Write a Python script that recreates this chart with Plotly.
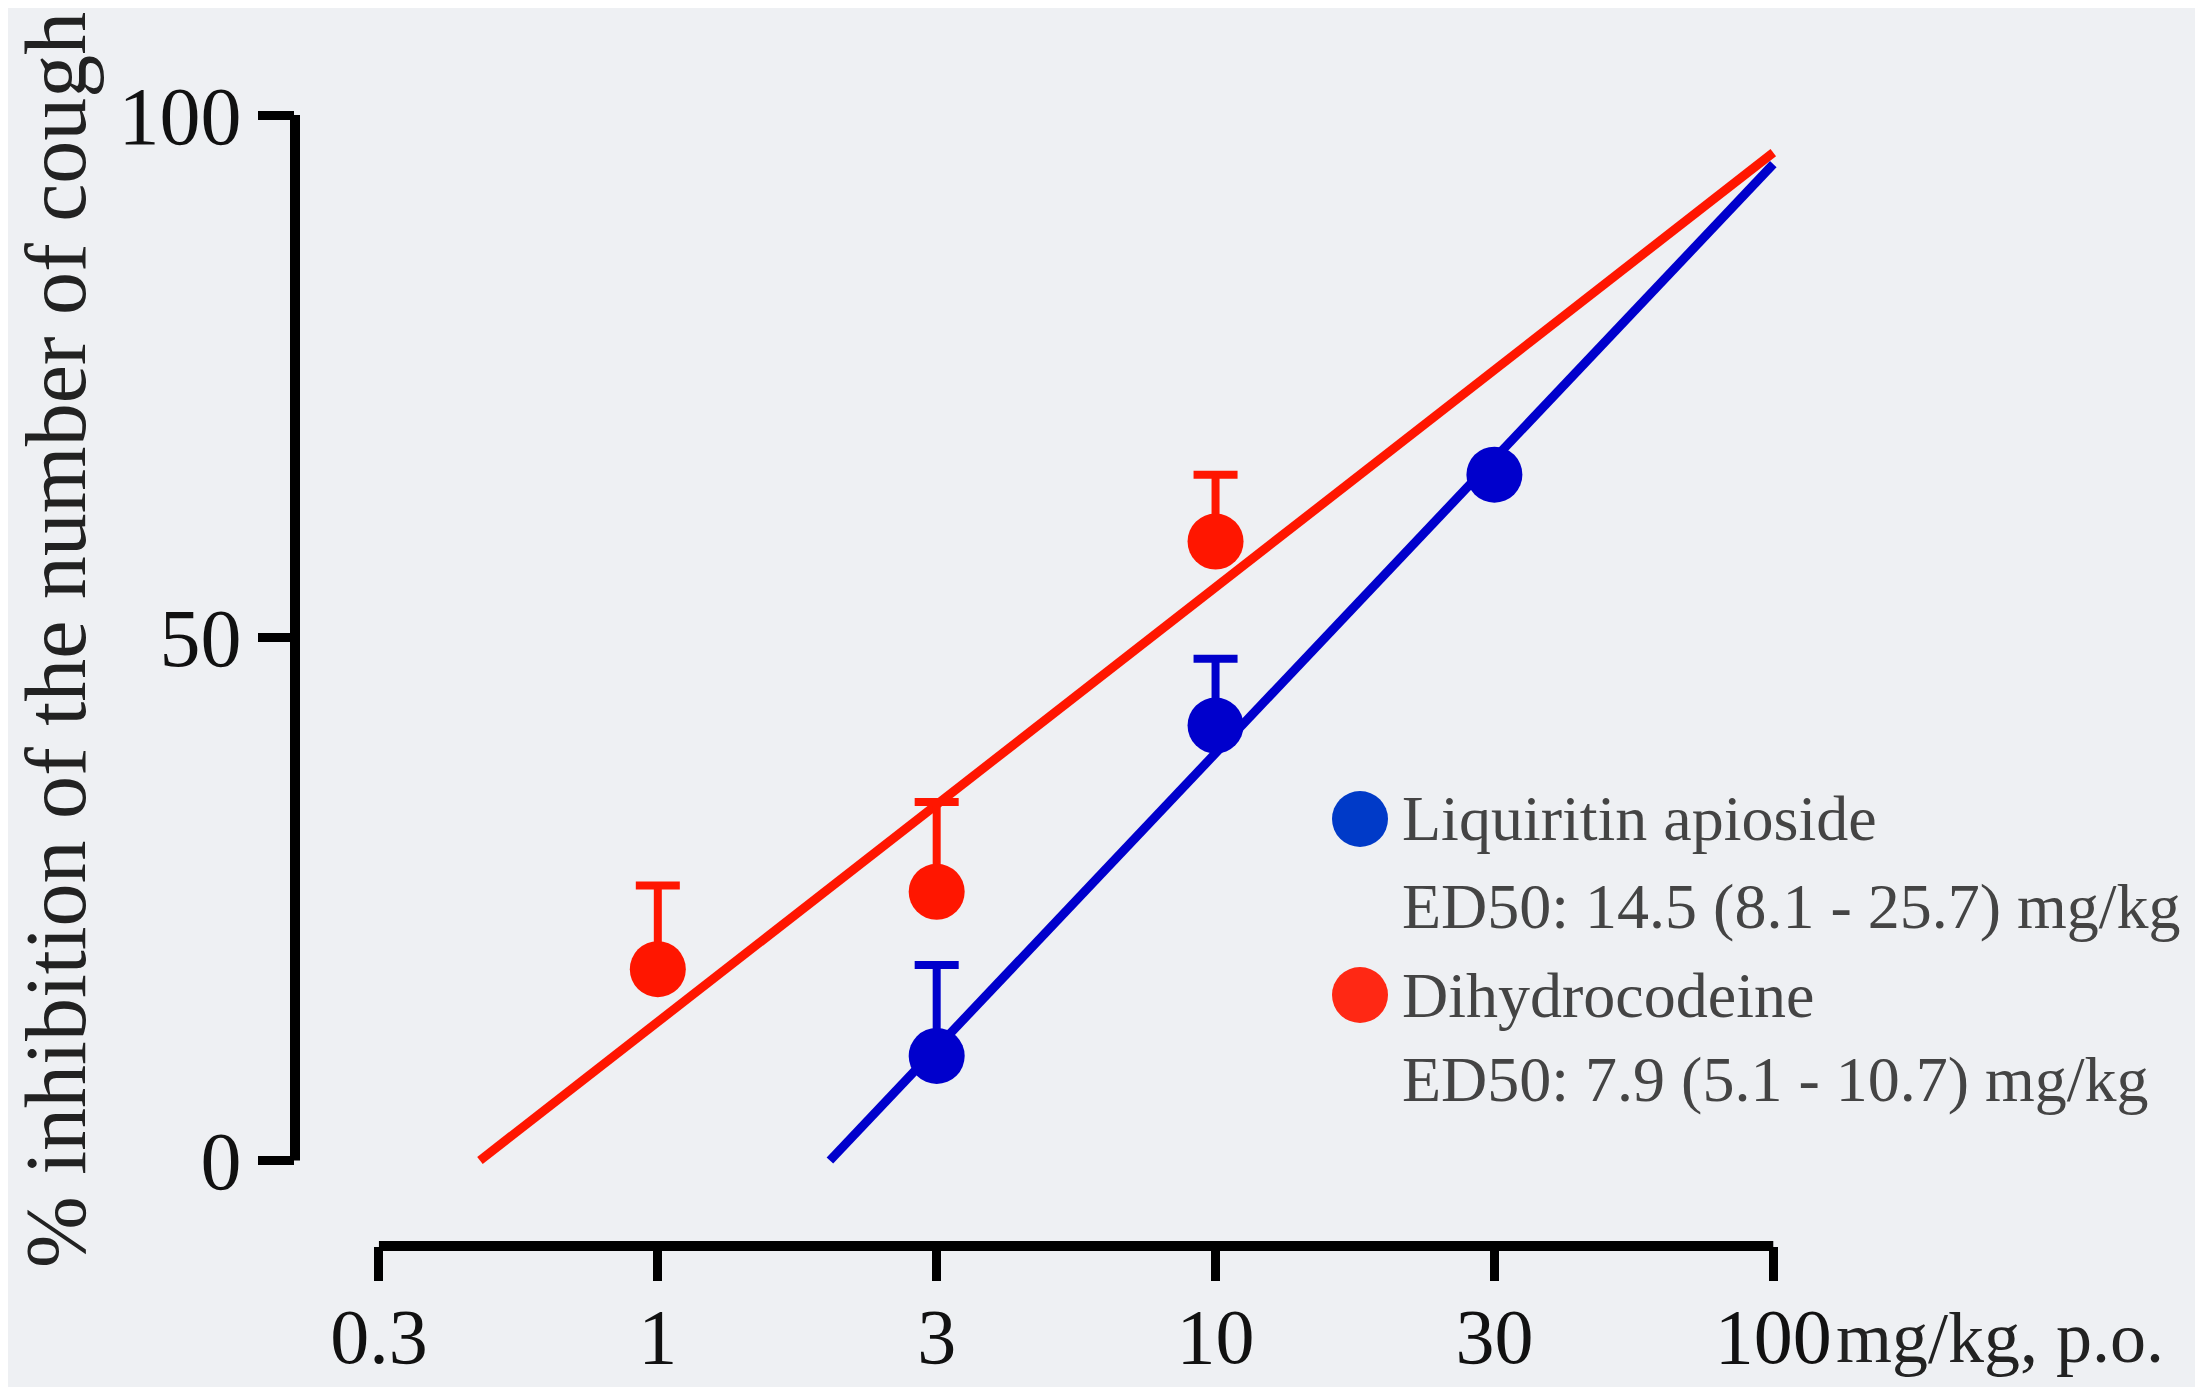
import numpy as np
import plotly.graph_objects as go

# ---- data ----
tick_vals = [0.3, 1, 3, 10, 30, 100]
tick_labels = ["0.3", "1", "3", "10", "30", "100"]

red_dose = [1, 3, 10]
red_mean = [18.3, 25.7, 59.2]
red_sem = [8.0, 8.6, 6.4]

blue_dose = [3, 10, 30]
blue_mean = [10.0, 41.6, 65.6]
blue_sem = [8.7, 6.4, 0.0]

red_fit_dose = [0.464, 100]
red_fit_y = [0, 96.4]
blue_fit_dose = [1.97, 100]
blue_fit_y = [0, 95.3]

legend_names = ["Liquiritin apioside", "Dihydrocodeine"]
legend_ed50 = ["ED50: 14.5 (8.1 - 25.7) mg/kg", "ED50: 7.9 (5.1 - 10.7) mg/kg"]

RED = "rgb(255,22,0)"
BLUE = "rgb(0,0,204)"
LEG_BLUE = "rgb(0,58,200)"
LEG_RED = "rgb(255,40,20)"
BG = "#eef0f3"
SERIF = "Liberation Serif, Times New Roman, serif"


def pos(d):
    """half-decade dose axis: ticks evenly spaced, log-interpolated between"""
    return np.interp(np.log10(np.asarray(d, float)), np.log10(tick_vals), np.arange(len(tick_vals)))


OFF = 8  # page body margin
W, H = 2203, 1387
ML = 295 - OFF
MT = 115 - OFF
MR = W - (1843 - OFF)
MB = H - (1246 - OFF)
PW, PH = W - ML - MR, H - MT - MB


def px(x):
    return (x - OFF - ML) / PW


def py(y):
    return (H - MB - (y - OFF)) / PH


fig = go.Figure()

fig.add_trace(go.Scatter(x=pos(red_fit_dose), y=red_fit_y, mode="lines",
                         line=dict(color=RED, width=9), hoverinfo="skip"))
fig.add_trace(go.Scatter(x=pos(blue_fit_dose), y=blue_fit_y, mode="lines",
                         line=dict(color=BLUE, width=9), hoverinfo="skip"))

fig.add_trace(go.Scatter(x=pos(red_dose), y=red_mean, mode="markers",
                         marker=dict(color=RED, size=56),
                         error_y=dict(type="data", symmetric=False, array=red_sem,
                                      arrayminus=[0] * len(red_sem), color=RED,
                                      thickness=8, width=22)))
fig.add_trace(go.Scatter(x=pos(blue_dose), y=blue_mean, mode="markers",
                         marker=dict(color=BLUE, size=56),
                         error_y=dict(type="data", symmetric=False, array=blue_sem,
                                      arrayminus=[0] * len(blue_sem), color=BLUE,
                                      thickness=8, width=22)))

# axis lines (offset, Prism style)
fig.add_shape(type="line", xref="paper", yref="y", x0=0, x1=0, y0=0, y1=100,
              line=dict(color="black", width=10))
fig.add_shape(type="line", xref="x", yref="paper", x0=0, x1=len(tick_vals) - 1, y0=0, y1=0,
              line=dict(color="black", width=10))

# legend
leg_colors = [LEG_BLUE, LEG_RED]
leg_y = [819, 995]
ed_y = [906, 1079]
for i in range(2):
    fig.add_shape(type="circle", xref="paper", yref="paper",
                  xsizemode="pixel", ysizemode="pixel",
                  xanchor=px(1360), yanchor=py(leg_y[i]),
                  x0=-28, x1=28, y0=-28, y1=28,
                  fillcolor=leg_colors[i], line=dict(width=0))
    fig.add_annotation(xref="paper", yref="paper", x=px(1400), y=py(leg_y[i]),
                       xanchor="left", yanchor="middle", showarrow=False,
                       text=legend_names[i], font=dict(family=SERIF, size=64, color="#444"))
    fig.add_annotation(xref="paper", yref="paper", x=px(1400), y=py(ed_y[i]),
                       xanchor="left", yanchor="middle", showarrow=False,
                       text=legend_ed50[i], font=dict(family=SERIF, size=64, color="#444"))

# axis titles
fig.add_annotation(xref="paper", yref="paper", x=px(56), y=py(640),
                   xanchor="center", yanchor="middle", textangle=-90, showarrow=False,
                   text="% inhibition of the number of cough",
                   font=dict(family=SERIF, size=86, color="#222"))
fig.add_annotation(xref="paper", yref="paper", x=px(1834), y=py(1338),
                   xanchor="left", yanchor="middle", showarrow=False,
                   text="mg/kg, p.o.", font=dict(family=SERIF, size=72, color="#222"))

fig.update_layout(
    width=W, height=H,
    margin=dict(l=ML, r=MR, t=MT, b=MB, pad=0, autoexpand=False),
    paper_bgcolor=BG, plot_bgcolor=BG,
    showlegend=False,
    xaxis=dict(range=[-0.301, 5.25], tickmode="array", automargin=False,
               tickvals=list(range(len(tick_vals))), ticktext=tick_labels,
               ticks="outside", ticklen=34, tickwidth=9, tickcolor="black",
               ticklabelstandoff=-12,
               showline=False, showgrid=False, zeroline=False,
               tickfont=dict(family=SERIF, size=78, color="#111")),
    yaxis=dict(range=[-8.18, 100], tickmode="array", tickvals=[0, 50, 100],
               ticktext=["0", "50", "100"], automargin=False,
               ticks="outside", ticklen=36, tickwidth=9, tickcolor="black",
               showline=False, showgrid=False, zeroline=False,
               tickfont=dict(family=SERIF, size=82, color="#111")),
)

fig.write_html("out.html")
